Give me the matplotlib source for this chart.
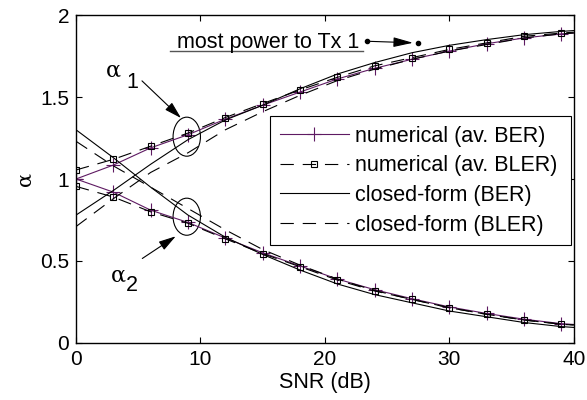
import matplotlib
matplotlib.use('Agg')
import matplotlib.pyplot as plt
from matplotlib.patches import Ellipse

# SNR grid (dB), markers every 3 dB, curves carried to 40 dB
snr = [0, 3, 6, 9, 12, 15, 18, 21, 24, 27, 30, 33, 36, 39, 40]

# numerical (av. BER)
num_ber_a1 = [1.0, 1.085, 1.19, 1.27, 1.365, 1.45, 1.53, 1.61, 1.675, 1.73, 1.78, 1.825, 1.86, 1.885, 1.89]
num_ber_a2 = [1.0, 0.92, 0.81, 0.735, 0.64, 0.55, 0.47, 0.39, 0.325, 0.27, 0.22, 0.18, 0.145, 0.118, 0.113]

# numerical (av. BLER)
num_bler_a1 = [1.055, 1.12, 1.20, 1.28, 1.375, 1.46, 1.543, 1.62, 1.69, 1.74, 1.79, 1.83, 1.87, 1.89, 1.895]
num_bler_a2 = [0.955, 0.89, 0.80, 0.73, 0.635, 0.545, 0.465, 0.384, 0.317, 0.266, 0.215, 0.175, 0.14, 0.114, 0.11]

# closed-form (BER)
cf_ber_a1 = [0.78, 0.93, 1.09, 1.24, 1.36, 1.45, 1.55, 1.64, 1.71, 1.77, 1.815, 1.85, 1.88, 1.90, 1.905]
cf_ber_a2 = [1.30, 1.13, 0.95, 0.78, 0.645, 0.54, 0.445, 0.36, 0.295, 0.245, 0.195, 0.16, 0.125, 0.10, 0.095]

# closed-form (BLER)
cf_bler_a1 = [0.71, 0.88, 1.04, 1.16, 1.30, 1.41, 1.51, 1.60, 1.67, 1.73, 1.78, 1.82, 1.86, 1.885, 1.89]
cf_bler_a2 = [1.23, 1.08, 0.95, 0.82, 0.69, 0.57, 0.475, 0.39, 0.32, 0.265, 0.215, 0.175, 0.14, 0.115, 0.11]

xticks = [0, 10, 20, 30, 40]
yticks = [0, 0.5, 1, 1.5, 2]
ytick_labels = ['0', '0.5', '1', '1.5', '2']

plt.rcParams['font.family'] = ['Liberation Sans', 'DejaVu Sans']
plt.rcParams['font.size'] = 15

purple = '#5e1a62'
dash = (12, 8)
marks = slice(0, 14)
fs = 15.5

fig = plt.figure(figsize=(5.87, 4.0), dpi=100)
ax = fig.add_axes([0.1295, 0.1425, 0.848, 0.82])

ax.plot(snr, num_ber_a1, color=purple, lw=0.8, marker='+', ms=10, mew=0.8,
        markevery=marks, label='numerical (av. BER)')
ax.plot(snr, num_ber_a2, color=purple, lw=0.8, marker='+', ms=10, mew=0.8,
        markevery=marks)
ax.plot(snr, num_bler_a1, color='k', lw=0.8, dashes=dash, marker='s', ms=5, mew=0.8,
        mfc='none', markevery=marks, label='numerical (av. BLER)')
ax.plot(snr, num_bler_a2, color='k', lw=0.8, dashes=dash, marker='s', ms=5, mew=0.8,
        mfc='none', markevery=marks)
ax.plot(snr, cf_ber_a1, color='k', lw=0.8, label='closed-form (BER)')
ax.plot(snr, cf_ber_a2, color='k', lw=0.8)
ax.plot(snr, cf_bler_a1, color='k', lw=0.8, dashes=dash, label='closed-form (BLER)')
ax.plot(snr, cf_bler_a2, color='k', lw=0.8, dashes=dash)

ax.set_xlim(0, 40)
ax.set_ylim(0, 2)
ax.set_xticks(xticks)
ax.set_yticks(yticks)
ax.set_yticklabels(ytick_labels)
ax.tick_params(direction='in', length=4, top=True, right=True, labelsize=15, pad=5)
for s in ax.spines.values():
    s.set_linewidth(1.0)

ax.set_xlabel('SNR (dB)', fontsize=fs, labelpad=2)
ax.set_ylabel('α', fontsize=15, family='DejaVu Serif', labelpad=4)

leg = ax.legend(loc='upper left', bbox_to_anchor=(0.39, 0.302, 0.605, 0.39), mode='expand',
                fontsize=fs, handlelength=3.2, handletextpad=0.3, borderpad=0.45,
                labelspacing=0.4, fancybox=False, framealpha=1, edgecolor='k',
                borderaxespad=0)
leg.get_frame().set_linewidth(0.8)

# ellipses marking the two curve families
ax.add_patch(Ellipse((8.9, 1.258), 2.2, 0.238, fill=False, lw=0.8, ec='k'))
ax.add_patch(Ellipse((8.9, 0.77), 2.2, 0.226, fill=False, lw=0.8, ec='k'))

# alpha labels with arrows
ax.text(3.0, 1.66, 'α', fontsize=16, family='DejaVu Serif', ha='center', va='center')
ax.text(4.5, 1.59, '1', fontsize=fs, ha='center', va='center')
ax.annotate('', xy=(8.6, 1.36), xytext=(5.14, 1.61),
            arrowprops=dict(arrowstyle='-|>,head_length=0.7,head_width=0.2', color='k', lw=0.8))
ax.text(3.37, 0.41, 'α', fontsize=16, family='DejaVu Serif', ha='center', va='center')
ax.text(4.5, 0.35, '2', fontsize=fs, ha='center', va='center')
ax.annotate('', xy=(8.2, 0.66), xytext=(5.14, 0.506),
            arrowprops=dict(arrowstyle='-|>,head_length=0.7,head_width=0.2', color='k', lw=0.8))

# "most power to Tx 1" note
ax.text(8.1, 1.80, 'most power to Tx 1', fontsize=fs, ha='left', va='baseline')
ax.plot([7.56, 23.1], [1.782, 1.782], color='#555555', lw=1.0)
ax.plot([23.35, 27.47], [1.84, 1.83], 'o', color='k', ms=3)
ax.annotate('', xy=(27.3, 1.83), xytext=(23.35, 1.84),
            arrowprops=dict(arrowstyle='-|>,head_length=0.8,head_width=0.2', color='k', lw=0.8))

fig.savefig('out.png', dpi=100)
